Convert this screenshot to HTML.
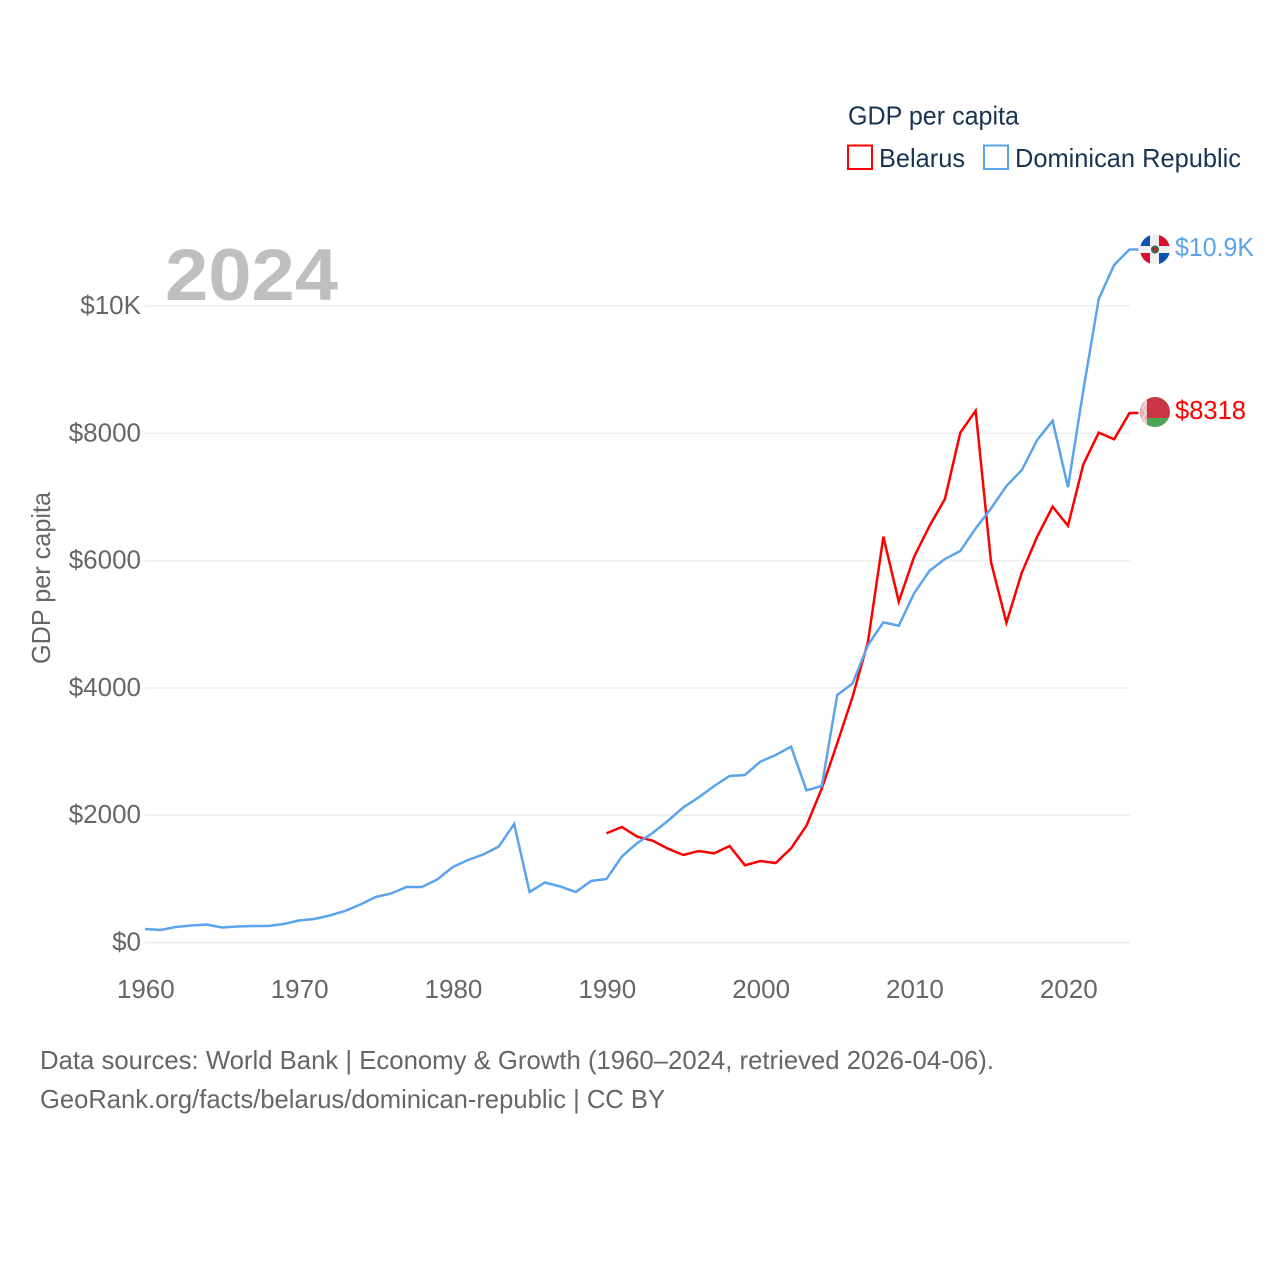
<!DOCTYPE html>
<html lang="en">
<head>
<meta charset="utf-8">
<title>GDP per capita: Belarus and Dominican Republic</title>
<style>
html,body{margin:0;padding:0;background:#fff;width:1280px;height:1280px;overflow:hidden}
svg{display:block;font-family:"Liberation Sans",sans-serif}
</style>
</head>
<body>
<svg id="chart" xmlns="http://www.w3.org/2000/svg" width="1280" height="1280" viewBox="0 0 1280 1280">
  <defs>
    <clipPath id="flag-clip-do"><circle cx="1155" cy="249.5" r="15"/></clipPath>
    <clipPath id="flag-clip-by"><circle cx="1155" cy="412" r="15"/></clipPath>
  </defs>
  <rect x="0" y="0" width="1280" height="1280" fill="#fff"/>
  <g id="grid"></g>
  <g id="y-ticks"></g>
  <g id="x-ticks"></g>
  <text x="165" y="300" font-size="73" font-weight="700" fill="#bfbfbf" textLength="173" lengthAdjust="spacingAndGlyphs">2024</text>
  <text transform="translate(50,664) rotate(-90)" font-size="26" fill="#666" textLength="172" lengthAdjust="spacingAndGlyphs">GDP per capita</text>
  <g id="series"></g>

  <g>
    <text x="848" y="124.5" font-size="26" fill="#1a3352" textLength="171" lengthAdjust="spacingAndGlyphs">GDP per capita</text>
    <g>
      <rect x="848" y="145.5" width="24" height="23.5" fill="#fff" stroke="#ff0000" stroke-width="2"/>
      <text x="879" y="167" font-size="26" fill="#1a3352" textLength="86" lengthAdjust="spacingAndGlyphs">Belarus</text>
    </g>
    <g>
      <rect x="984" y="145.5" width="24" height="23.5" fill="#fff" stroke="#5ba4ec" stroke-width="2"/>
      <text x="1015" y="167" font-size="26" fill="#1a3352" textLength="226" lengthAdjust="spacingAndGlyphs">Dominican Republic</text>
    </g>
  </g>

  <g clip-path="url(#flag-clip-do)">
    <rect x="1140" y="234" width="30" height="31" fill="#f0f0f0"/>
    <rect x="1140" y="234" width="10" height="12" fill="#0a52b0"/>
    <rect x="1159" y="234" width="11" height="12" fill="#d80f2f"/>
    <rect x="1140" y="253" width="10" height="12" fill="#d80f2f"/>
    <rect x="1159" y="253" width="11" height="12" fill="#0a52b0"/>
    <circle cx="1155" cy="249.5" r="4" fill="#2f6f4f"/>
    <circle cx="1155" cy="249.5" r="2.2" fill="#c8213a"/>
  </g>
  <g clip-path="url(#flag-clip-by)">
    <rect x="1140" y="397" width="30" height="21" fill="#c73642"/>
    <rect x="1140" y="418" width="30" height="10" fill="#4ca454"/>
    <rect x="1140" y="397" width="7" height="31" fill="#e4b4b8"/>
    <path d="M1143 398 L1146 403 L1143 408 L1146 413 L1143 418 L1146 423 L1143 428" fill="none" stroke="#f4e4e4" stroke-width="1.4"/>
  </g>

  <text x="1175" y="256" font-size="26" fill="#5ba4ec" textLength="79" lengthAdjust="spacingAndGlyphs">$10.9K</text>
  <text x="1175" y="419" font-size="26" fill="#ff0000" textLength="71" lengthAdjust="spacingAndGlyphs">$8318</text>

  <text x="40" y="1069" font-size="26" fill="#666" textLength="954" lengthAdjust="spacingAndGlyphs">Data sources: World Bank | Economy &amp; Growth (1960–2024, retrieved 2026-04-06).</text>
  <text x="40" y="1108" font-size="26" fill="#666" textLength="625" lengthAdjust="spacingAndGlyphs">GeoRank.org/facts/belarus/dominican-republic | CC BY</text>
</svg>

<script>
const dominicanStartYear = 1960;
const dominicanValues = [212,196,243,267,283,236,251,259,259,290,345,369,424,495,597,715,770,872,872,990,1186,1296,1383,1508,1862,793,943,880,793,966,998,1351,1563,1720,1913,2124,2281,2459,2616,2632,2841,2946,3076,2391,2459,3888,4072,4674,5030,4977,5486,5841,6025,6151,6507,6821,7172,7423,7895,8198,7152,8680,10110,10644,10888];
const belarusStartYear = 1990;
const belarusValues = [1716,1815,1662,1600,1474,1375,1438,1401,1516,1213,1280,1249,1480,1835,2422,3130,3862,4726,6376,5354,6061,6544,6968,8010,8355,5973,5024,5810,6376,6847,6548,7513,8010,7906,8318];
const yTickValues = [0,2000,4000,6000,8000,10000];
const yTickLabels = ['$0','$2000','$4000','$6000','$8000','$10K'];
const xTickValues = [1960,1970,1980,1990,2000,2010,2020];
const xTickLabels = ['1960','1970','1980','1990','2000','2010','2020'];

const SVG_NS = 'http://www.w3.org/2000/svg';
const xMinYear = 1960, xMaxYear = 2024, xLeft = 145, xRight = 1129.5;
const yMinValue = 0, yMaxValue = 10000, yBottom = 942.5, yTop = 306;
function xScale(year){ return xLeft + (year - xMinYear) / (xMaxYear - xMinYear) * (xRight - xLeft); }
function yScale(value){ return yBottom - (value - yMinValue) / (yMaxValue - yMinValue) * (yBottom - yTop); }

const gridGroup = document.getElementById('grid');
const yTickGroup = document.getElementById('y-ticks');
const xTickGroup = document.getElementById('x-ticks');
const seriesGroup = document.getElementById('series');

yTickValues.forEach(function(value, i){
  const line = document.createElementNS(SVG_NS, 'line');
  
  
  line.setAttribute('x1', xLeft);
  line.setAttribute('x2', xRight + 0.5);
  line.setAttribute('y1', yScale(value));
  line.setAttribute('y2', yScale(value));
  line.setAttribute('stroke', '#eeeeee');
  line.setAttribute('stroke-width', value === 0 ? 2 : 1.5);
  gridGroup.appendChild(line);

  const label = document.createElementNS(SVG_NS, 'text');
  
  
  label.setAttribute('x', 141);
  label.setAttribute('y', yScale(value) + 8);
  label.setAttribute('text-anchor', 'end');
  label.setAttribute('font-size', 26);
  label.setAttribute('fill', '#666');
  label.textContent = yTickLabels[i];
  yTickGroup.appendChild(label);
});

xTickValues.forEach(function(year, i){
  const label = document.createElementNS(SVG_NS, 'text');
  
  
  label.setAttribute('x', xScale(year) + 0.8);
  label.setAttribute('y', 998);
  label.setAttribute('text-anchor', 'middle');
  label.setAttribute('font-size', 26);
  label.setAttribute('fill', '#666');
  label.textContent = xTickLabels[i];
  xTickGroup.appendChild(label);
});

function seriesPoints(startYear, values){
  const points = values.map(function(value, i){
    return xScale(startYear + i).toFixed(2) + ',' + yScale(value).toFixed(2);
  });
  const lastValue = values[values.length - 1];
  points.push((xRight + 9) + ',' + yScale(lastValue).toFixed(2));
  return points.join(' ');
}

const belarusLine = document.createElementNS(SVG_NS, 'polyline');


belarusLine.setAttribute('points', seriesPoints(belarusStartYear, belarusValues));
belarusLine.setAttribute('fill', 'none');
belarusLine.setAttribute('stroke', '#ff0000');
belarusLine.setAttribute('stroke-width', 2.5);
belarusLine.setAttribute('stroke-linejoin', 'miter');
seriesGroup.appendChild(belarusLine);

const dominicanLine = document.createElementNS(SVG_NS, 'polyline');


dominicanLine.setAttribute('points', seriesPoints(dominicanStartYear, dominicanValues));
dominicanLine.setAttribute('fill', 'none');
dominicanLine.setAttribute('stroke', '#5ba4ec');
dominicanLine.setAttribute('stroke-width', 2.5);
dominicanLine.setAttribute('stroke-linejoin', 'miter');
seriesGroup.appendChild(dominicanLine);
</script>
</body>
</html>
